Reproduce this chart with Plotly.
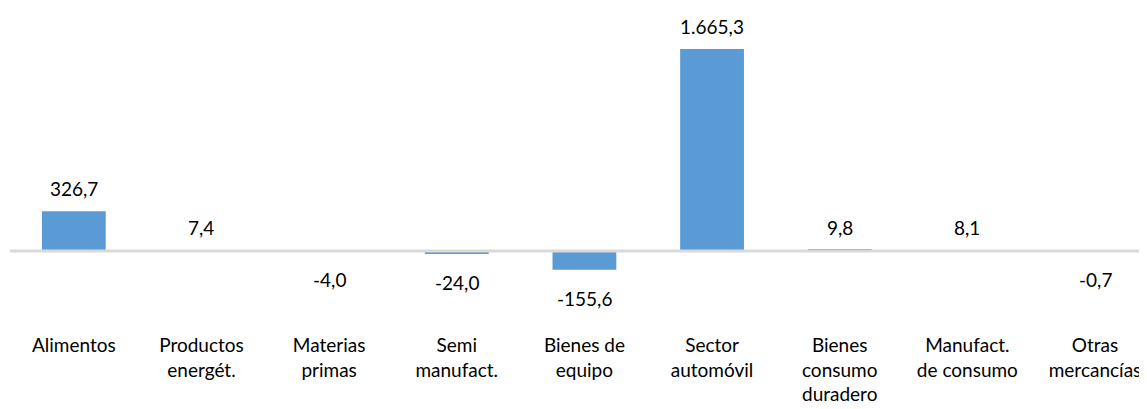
import plotly.graph_objects as go

categories = ["Alimentos", "Productos<br>energét.", "Materias<br>primas", "Semi<br>manufact.",
              "Bienes de<br>equipo", "Sector<br>automóvil", "Bienes<br>consumo<br>duradero",
              "Manufact.<br>de consumo", "Otras<br>mercancías"]
values = [326.7, 7.4, -4.0, -24.0, -155.6, 1665.3, 9.8, 8.1, -0.7]

FONT = "Lato"
SIZE = 19
fig = go.Figure()
fig.add_trace(go.Bar(x=categories, y=values, marker_color="#5b9bd5", width=0.5,
                     marker_line_width=0))

for c, v in zip(categories, values):
    fig.add_annotation(x=c, y=v, text=f"{v:,.1f}".replace(",", "X").replace(".", ",").replace("X", "."),
                       showarrow=False, yanchor="bottom" if v >= 0 else "top",
                       yshift=9 if v >= 0 else -15,
                       font=dict(family=FONT, size=SIZE, color="#000000"))

# zero line drawn above bars
fig.add_shape(type="line", xref="paper", x0=0, x1=1, yref="y", y0=0, y1=0,
              line=dict(color="#d9d9d9", width=3), layer="above")

fig.update_layout(
    width=1147, height=409,
    margin=dict(l=2, r=0, t=2, b=85),
    plot_bgcolor="white", paper_bgcolor="white",
    showlegend=False,
    separators=",.",
    font=dict(family=FONT, size=SIZE, color="#000000"),
)
fig.update_xaxes(range=[-0.5, 8.47], showgrid=False, showline=False, ticks="",
                 tickfont=dict(family=FONT, size=SIZE, color="#000000"))
fig.update_yaxes(range=[-668, 1987], showgrid=False, showticklabels=False, ticks="",
                 zeroline=False)
fig.write_html("out.html")
